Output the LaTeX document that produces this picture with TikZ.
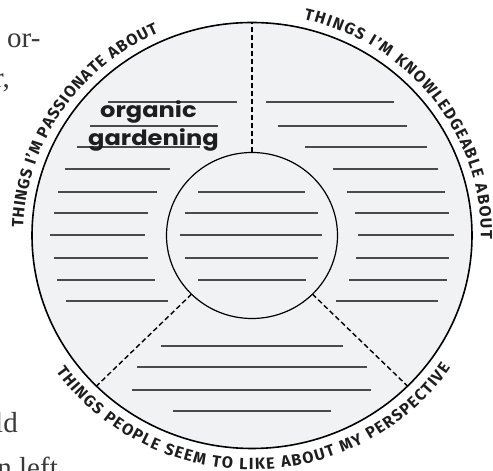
\documentclass[tikz,border=0pt]{standalone}
\usepackage{fontspec}
\usetikzlibrary{calc}
\newfontfamily\arcfont{Fira Sans}
\newfontfamily\handfont[FakeStretch=1.15]{Poppins}
\newfontfamily\bodyfont{Liberation Serif}
\newcommand\arcfmt{\fontsize{15}{15}\selectfont\arcfont\bfseries}
\newlength\chwd
\definecolor{panel}{HTML}{F1F2F4}
\definecolor{lineg}{HTML}{4A4A4A}
\definecolor{bodyg}{HTML}{383838}
\definecolor{ink}{HTML}{1E1E1E}
\tikzset{
  wline/.style={draw=lineg, line width=1.1pt},
  hub/.style={draw=black, line width=1.2pt, fill=panel},
  divider/.style={draw=black, line width=1.4pt, dash pattern=on 5pt off 3pt},
  body/.style={font=\bodyfont\fontsize{29}{29}\selectfont, text=bodyg, inner sep=0pt},
  hand/.style={font=\handfont\bfseries\fontsize{21}{21}\selectfont, text=ink, inner sep=0pt},
  arcch/.style={text=ink, inner sep=0pt, anchor=base},
}
\newcommand\palist{T,H,I,N,G,S,{\ },I,’,M,{\ },P,A,S,S,I,O,N,A,T,E,{\ },A,B,O,U,T}
\newcommand\knlist{T,H,I,N,G,S,{\ },I,’,M,{\ },K,N,O,W,L,E,D,G,E,A,B,L,E,{\ },A,B,O,U,T}
\newcommand\pelist{T,H,I,N,G,S,{\ },P,E,O,P,L,E,{\ },S,E,E,M,{\ },T,O,{\ },L,I,K,E,{\ },A,B,O,U,T,{\ },M,Y,{\ },P,E,R,S,P,E,C,T,I,V,E}
% measure widths outside the picture: #1 prefix, #2 list macro
\newcommand\measurelist[2]{%
  \gdef\Wsum{0}\gdef\Nch{0}%
  \foreach \ch [count=\i] in #2 {%
    \settowidth{\chwd}{\arcfmt\ch}%
    \expandafter\xdef\csname #1w\i\endcsname{\the\chwd}%
    \pgfmathsetmacro\tmp{\Wsum+\chwd}\xdef\Wsum{\tmp}%
    \xdef\Nch{\i}}%
  \expandafter\xdef\csname #1sum\endcsname{\Wsum}%
  \expandafter\xdef\csname #1n\endcsname{\Nch}%
}
% #1 start angle, #2 direction (+1 ccw, -1 cw), #3 span, #4 rx, #5 ry, #6 prefix, #7 list macro
\newcommand\placearc[7]{%
  \pgfmathsetmacro\Rm{(#4+#5)/2}%
  \pgfmathsetmacro\arcL{#3*pi/180*\Rm}%
  \pgfmathsetmacro\cgap{(\arcL-\csname #6sum\endcsname*\arcs)/(\csname #6n\endcsname-1)}%
  \gdef\Spos{0}%
  \foreach \ch [count=\i] in #7 {%
    \pgfmathsetmacro\cw{\csname #6w\i\endcsname*\arcs}%
    \pgfmathsetmacro\cmid{\Spos+\cw/2}%
    \pgfmathsetmacro\cth{#1+#2*\cmid/\Rm*180/pi}%
    \pgfmathsetmacro\crot{\cth+#2*90}%
    \node[arcch, rotate=\crot, scale=\arcs] (#6\i) at ($(c)+(\cth:#4pt and #5pt)$) {\arcfmt\ch};
    \pgfmathsetmacro\tmp{\Spos+\cw+\cgap}\xdef\Spos{\tmp}%
  }%
}
\begin{document}
\settoheight{\chwd}{\arcfmt T}%
\pgfmathsetmacro\arcs{11.2/max(\chwd,5)}%
\measurelist{pa}{\palist}%
\measurelist{kn}{\knlist}%
\measurelist{pe}{\pelist}%
\begin{tikzpicture}[x=1pt,y=1pt]
\useasboundingbox (0,0) rectangle (493,471);
\clip (0,0) rectangle (493,471);
\coordinate (c) at (252,235.5);
% surrounding page text fragments
\node[body, anchor=base west] (t1) at (7,423) {or-};
\node[body, anchor=base east] (t2) at (10,383) {r,};
\node[body, anchor=base east] (t3) at (18,38) {ld};
\node[body, anchor=base east] (t4) at (58,-7) {n left};
% wheel
\fill[panel] (c) ellipse [x radius=220pt, y radius=213pt];
\draw[divider] ($(c)+(90:85.5pt and 83pt)$) coordinate (d1i) -- ($(c)+(90:220pt and 213pt)$) coordinate (d1o);
\draw[divider] ($(c)+(225:85.5pt and 83pt)$) coordinate (d2i) -- ($(c)+(225:220pt and 213pt)$) coordinate (d2o);
\draw[divider] ($(c)+(315:85.5pt and 83pt)$) coordinate (d3i) -- ($(c)+(315:220pt and 213pt)$) coordinate (d3o);
\draw[black, line width=1.6pt] (c) ellipse [x radius=220pt, y radius=213pt];
\draw[hub] (c) ellipse [x radius=85.5pt, y radius=83pt];
% writing lines: left sector
\foreach \py/\xa/\xb in {102/108/237,126/90/218,147/77/200,169/65/170,192/58/157,213/54/148,235/50/145,258/54/148,280/57/155,301/66/168}
  \draw[wline] (\xa,471-\py) -- (\xb,471-\py);
% right sector
\foreach \py/\xa/\xb in {102/266/394,126/278/407,147/305/427,169/333/438,192/347/445,213/355/449,235/358/454,258/356/449,280/349/447,301/336/438}
  \draw[wline] (\xa,471-\py) -- (\xb,471-\py);
% centre
\foreach \py/\xa/\xb in {192/198/305,213/185/318,235/180/322,258/185/318,280/198/306}
  \draw[wline] (\xa,471-\py) -- (\xb,471-\py);
% bottom sector
\foreach \py/\xa/\xb in {346/161/343,367/137/367,390/132/371,411/173/331}
  \draw[wline] (\xa,471-\py) -- (\xb,471-\py);
% handwriting
\node[hand, anchor=base west] (h1) at (100,353) {organic};
\node[hand, anchor=base west] (h2) at (88,325) {gardening};
% arc labels
\placearc{178}{-1}{64}{229}{222}{pa}{\palist}
\placearc{77}{-1}{78}{229}{222}{kn}{\knlist}
\placearc{215.5}{1}{110}{241}{234}{pe}{\pelist}
\end{tikzpicture}
\end{document}
